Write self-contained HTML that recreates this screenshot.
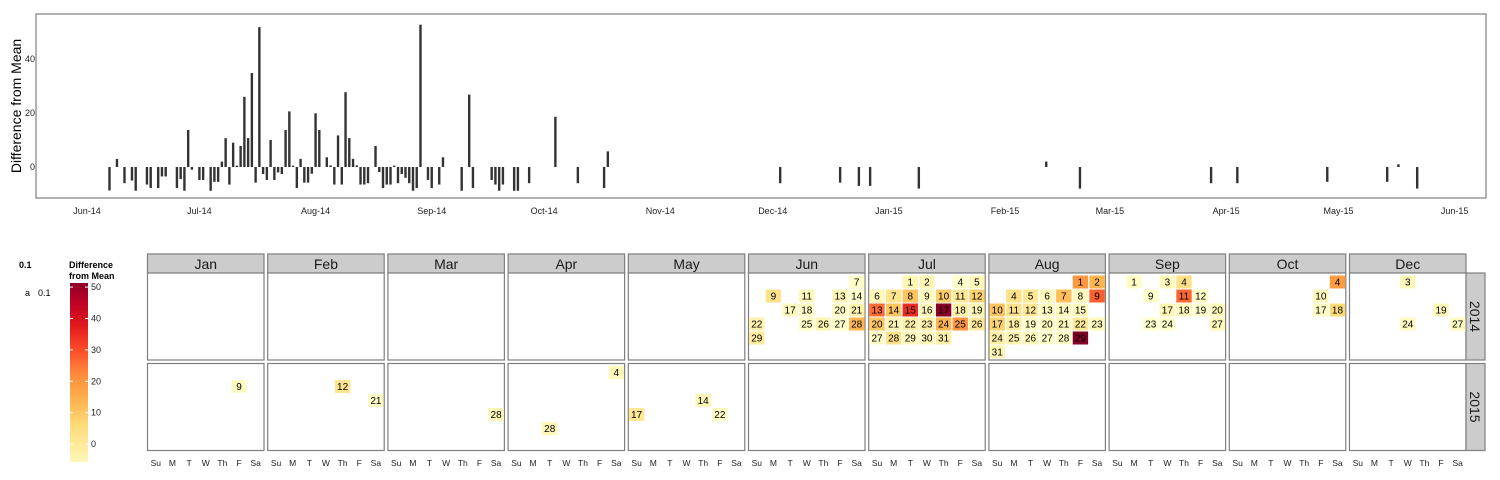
<!DOCTYPE html>
<html><head><meta charset="utf-8"><style>
html,body{margin:0;padding:0;background:#fff;}
svg{display:block;font-family:"Liberation Sans",Arial,sans-serif;}
</style></head><body>
<svg id="chart" width="1500" height="480" viewBox="0 0 1500 480" xmlns="http://www.w3.org/2000/svg"></svg>
<script>
const dates = ["2014-06-07","2014-06-09","2014-06-11","2014-06-13","2014-06-14","2014-06-17","2014-06-18","2014-06-20","2014-06-21","2014-06-22","2014-06-25","2014-06-26","2014-06-27","2014-06-28","2014-06-29",
"2014-07-01","2014-07-02","2014-07-04","2014-07-05","2014-07-06","2014-07-07","2014-07-08","2014-07-09","2014-07-10","2014-07-11","2014-07-12","2014-07-13","2014-07-14","2014-07-15","2014-07-16","2014-07-17","2014-07-18","2014-07-19","2014-07-20","2014-07-21","2014-07-22","2014-07-23","2014-07-24","2014-07-25","2014-07-26","2014-07-27","2014-07-28","2014-07-29","2014-07-30","2014-07-31",
"2014-08-01","2014-08-02","2014-08-04","2014-08-05","2014-08-06","2014-08-07","2014-08-08","2014-08-09","2014-08-10","2014-08-11","2014-08-12","2014-08-13","2014-08-14","2014-08-15","2014-08-17","2014-08-18","2014-08-19","2014-08-20","2014-08-21","2014-08-22","2014-08-23","2014-08-24","2014-08-25","2014-08-26","2014-08-27","2014-08-28","2014-08-29","2014-08-31",
"2014-09-01","2014-09-03","2014-09-04","2014-09-09","2014-09-11","2014-09-12","2014-09-17","2014-09-18","2014-09-19","2014-09-20","2014-09-23","2014-09-24","2014-09-27",
"2014-10-04","2014-10-10","2014-10-17","2014-10-18",
"2014-12-03","2014-12-19","2014-12-24","2014-12-27",
"2015-01-09","2015-02-12","2015-02-21","2015-03-28","2015-04-04","2015-04-28","2015-05-14","2015-05-17","2015-05-22"];
const values = [-8.7,3,-6,-5,-8.8,-6.5,-7.8,-7.8,-3.5,-3.5,-7.8,-4.5,-8.8,13.7,-1,
-4.8,-4.8,-8.8,-5.5,-5.5,2,10.7,-6.5,9,0.5,7.8,26,10.7,34.8,-5.8,51.8,-2.6,-4.8,10,-4.8,-2,-2.6,13.7,20.6,0.5,-7.8,3,-5.8,-5.8,-2.5,
19.9,13.7,3.6,0.6,-6.5,11.7,-6.5,27.7,10.7,3,0.6,-6.5,-6.5,-6,7.8,-1.9,-7.8,-6.5,-6.5,0.5,-6,-2.6,-4,-6,-8.8,-7.8,52.7,-4.8,
-7.8,-6.5,3.6,-8.8,26.8,-7.8,-4.8,-6.5,-8.8,-6.5,-8.8,-8.8,-6,
18.6,-6,-7.8,5.8,
-6,-5.8,-7,-7,
-8,2,-8,-6,-6,-5.5,-5.5,1,-8];
const xTickLabels = ["Jun-14","Jul-14","Aug-14","Sep-14","Oct-14","Nov-14","Dec-14","Jan-15","Feb-15","Mar-15","Apr-15","May-15","Jun-15"];
const xTickDates = ["2014-06-01","2014-07-01","2014-08-01","2014-09-01","2014-10-01","2014-11-01","2014-12-01","2015-01-01","2015-02-01","2015-03-01","2015-04-01","2015-05-01","2015-06-01"];
const yTicks = [0,20,40];
const legendTicks = [0,10,20,30,40,50];
const calMonths = ["Jan","Feb","Mar","Apr","May","Jun","Jul","Aug","Sep","Oct","Dec"];
const calMonthNums = [1,2,3,4,5,6,7,8,9,10,12];
const years = [2014,2015];
const dayNames = ["Su","M","T","W","Th","F","Sa"];

const NS="http://www.w3.org/2000/svg";
const svg=document.getElementById('chart');
function mk(tag,attrs,parent){const e=document.createElementNS(NS,tag);for(const k in attrs)e.setAttribute(k,attrs[k]);(parent||svg).appendChild(e);return e;}
function parse(s){const p=s.split('-').map(Number);return Date.UTC(p[0],p[1]-1,p[2]);}
const origin=parse("2014-06-01");
function dayIdx(s){return (parse(s)-origin)/86400000;}
function xScale(s){return 87+dayIdx(s)*3.747;}
function yScale(v){return 167-v*2.7;}

const stops=["#ffffcc","#ffeda0","#fed976","#feb24c","#fd8d3c","#fc4e2a","#e31a1c","#bd0026","#800026"];
function hex(h){return [1,3,5].map(i=>parseInt(h.substr(i,2),16));}
function color(v){let t=(v+9)/(53+9);t=Math.max(0,Math.min(1,t));const p=t*(stops.length-1);const i=Math.min(Math.floor(p),stops.length-2);const f=p-i;const a=hex(stops[i]),b=hex(stops[i+1]);return 'rgb('+a.map((c,k)=>Math.round(c+(b[k]-c)*f)).join(',')+')';}

const panel=mk('rect',{x:36,y:14,width:1450,height:184,fill:'#fff',stroke:'#7f7f7f','stroke-width':1.2});

const t=mk('text',{x:0,y:0,'font-size':14,'text-anchor':'middle',transform:'translate(21,106) rotate(-90)',fill:'#000'});
t.textContent='Difference from Mean';

yTicks.forEach(v=>{const e=mk('text',{x:35,y:yScale(v)+3,'font-size':9,'text-anchor':'end',fill:'#222'});e.textContent=v;
});
xTickLabels.forEach((l,i)=>{const e=mk('text',{x:xScale(xTickDates[i]),y:214,'font-size':9,'text-anchor':'middle',fill:'#222'});e.textContent=l;
});
dates.forEach((d,i)=>{const v=values[i];const y0=yScale(0),y1=yScale(v);
const r=mk('rect',{x:xScale(d)-1.2,y:Math.min(y0,y1),width:2.4,height:Math.max(0.8,Math.abs(y1-y0)),fill:'#333'});
});

let e=mk('text',{x:19,y:268,'font-size':9,'font-weight':'bold'});e.textContent='0.1';

e=mk('text',{x:25,y:296,'font-size':9});e.textContent='a';

e=mk('text',{x:38,y:296,'font-size':9});e.textContent='0.1';

e=mk('text',{x:69,y:268,'font-size':9,'font-weight':'bold'});e.textContent='Difference';

e=mk('text',{x:69,y:279,'font-size':9,'font-weight':'bold'});e.textContent='from Mean';

const defs=mk('defs',{});const g=mk('linearGradient',{id:'grad',x1:0,y1:1,x2:0,y2:0},defs);
const lvLo=-5.7,lvHi=51.3;
for(let k=0;k<=20;k++){const v=lvLo+(lvHi-lvLo)*k/20;mk('stop',{offset:k/20,'stop-color':color(v)},g);}
e=mk('rect',{x:70,y:283,width:18,height:179,fill:'url(#grad)'});

function ly(v){return 462-(v-lvLo)/(lvHi-lvLo)*179;}
legendTicks.forEach(v=>{const y=ly(v);
mk('line',{x1:70,x2:73,y1:y,y2:y,stroke:'#fff','stroke-width':1});
mk('line',{x1:85,x2:88,y1:y,y2:y,stroke:'#fff','stroke-width':1});
const tt=mk('text',{x:91,y:y+3,'font-size':9,fill:'#222'});tt.textContent=v;
});

const pw=116.5,pitch=120.2,px0=147.5;
const rowTop={2014:273,2015:363.5},ph=87;
calMonths.forEach((m,i)=>{const x=px0+i*pitch;
const h=mk('rect',{x:x,y:254,width:pw,height:19,fill:'#cccccc',stroke:'#7f7f7f','stroke-width':1.2});

const ht=mk('text',{x:x+pw/2,y:269,'font-size':14,'text-anchor':'middle',fill:'#1a1a1a'});ht.textContent=m;

years.forEach(yr=>{const p=mk('rect',{x:x,y:rowTop[yr],width:pw,height:ph,fill:'#fff',stroke:'#7f7f7f','stroke-width':1.2});
});
dayNames.forEach((dn,k)=>{const dt=mk('text',{x:x+(k+0.5)*pw/7,y:466,'font-size':8.5,'text-anchor':'middle',fill:'#222'});dt.textContent=dn;
});
});
years.forEach(yr=>{const s=mk('rect',{x:1466,y:rowTop[yr],width:19,height:ph,fill:'#cccccc',stroke:'#7f7f7f','stroke-width':1.2});

const st=mk('text',{x:0,y:0,'font-size':14,'text-anchor':'middle',transform:'translate(1470,'+(rowTop[yr]+ph/2)+') rotate(90)',fill:'#1a1a1a'});st.textContent=yr;
});
dates.forEach((d,i)=>{const p=d.split('-').map(Number);const yr=p[0],mo=p[1],dd=p[2];
const mi=calMonthNums.indexOf(mo);if(mi<0)return;
const first=new Date(Date.UTC(yr,mo-1,1)).getUTCDay();
const wd=new Date(Date.UTC(yr,mo-1,dd)).getUTCDay();
const row=Math.floor((dd+first-1)/7);
const cx=px0+mi*pitch+(wd+0.5)*pw/7, cy=rowTop[yr]+9+row*14;
const c=mk('rect',{x:cx-7.7,y:cy-6.5,width:15.4,height:13,fill:color(values[i])});

const ct=mk('text',{x:cx,y:cy+3.6,'font-size':10,'text-anchor':'middle',fill:'#000'});ct.textContent=dd;
});
</script>
</body></html>
